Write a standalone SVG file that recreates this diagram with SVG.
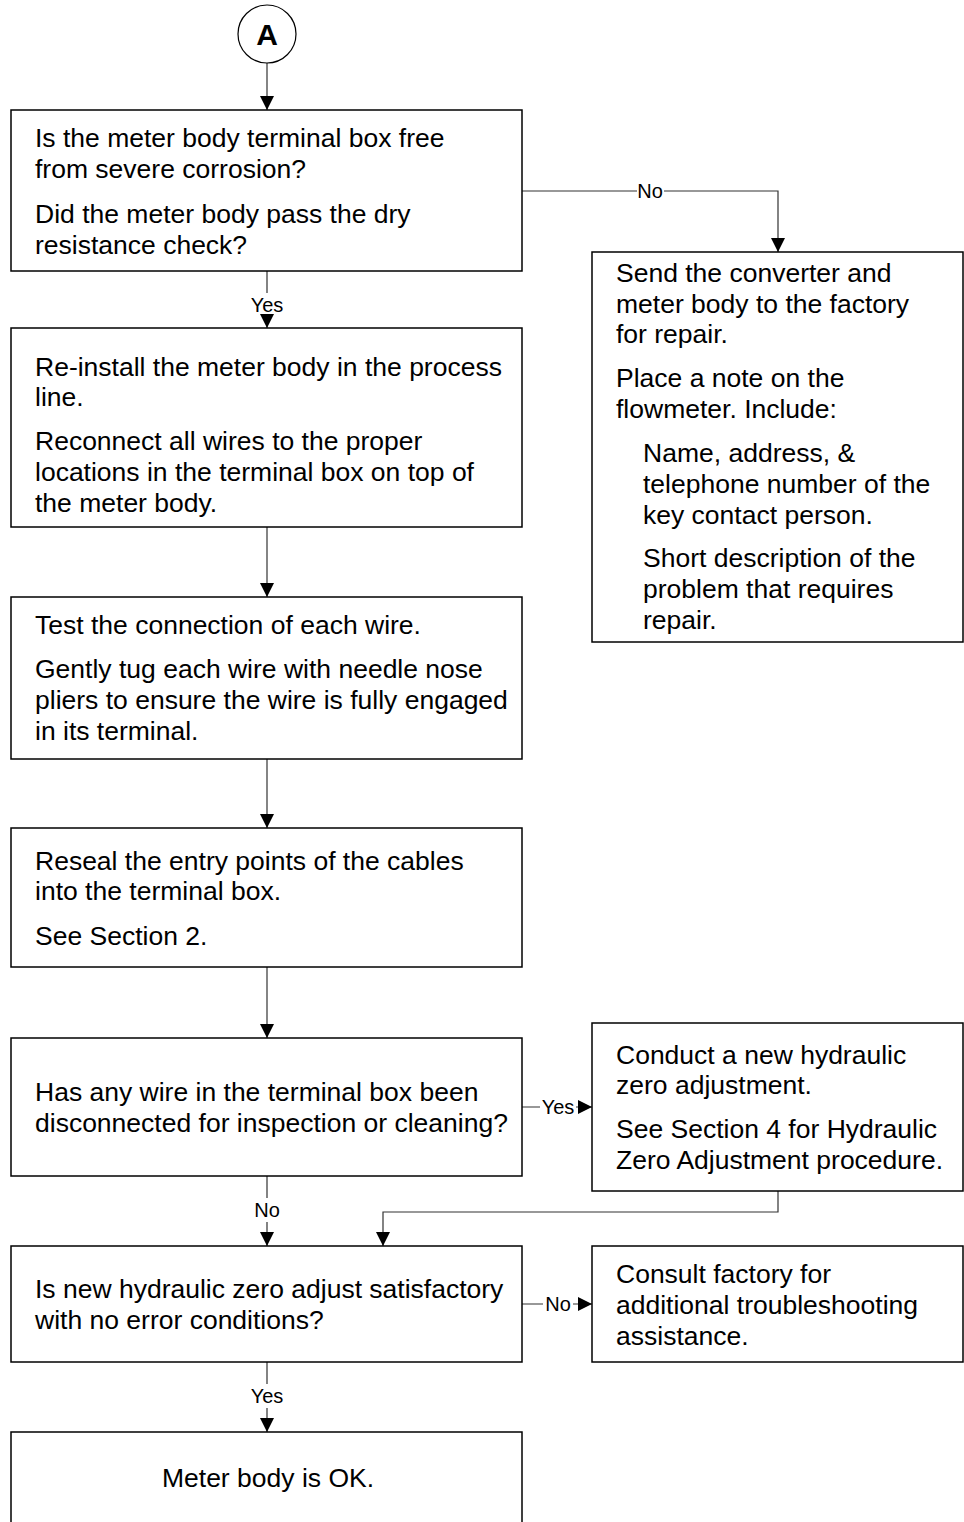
<svg xmlns="http://www.w3.org/2000/svg" width="964" height="1522" viewBox="0 0 964 1522">
<style>
.box{fill:#fff;stroke:#000;stroke-width:1.5}
.t{font-family:"Liberation Sans",Arial,sans-serif;font-size:26.5px;fill:#000}
.lbl{font-family:"Liberation Sans",Arial,sans-serif;font-size:20px;fill:#000}
.c{fill:none;stroke:#333;stroke-width:1.2}
</style>
<defs>
<marker id="ah" viewBox="0 0 10 10" refX="10" refY="5" markerWidth="14" markerHeight="14" markerUnits="userSpaceOnUse" orient="auto">
<path d="M0,0 L10,5 L0,10 Z" fill="#000"/>
</marker>
</defs>
<rect width="964" height="1522" fill="#fff"/>
<g id="connectors">
<path class="c" d="M267,63 V110" marker-end="url(#ah)"/>
<path class="c" d="M522,191 H637 M664,191 H778 V252" marker-end="url(#ah)"/>
<path class="c" d="M267,271 V293 M267,318 V328" marker-end="url(#ah)"/>
<path class="c" d="M267,527 V597" marker-end="url(#ah)"/>
<path class="c" d="M267,759 V828" marker-end="url(#ah)"/>
<path class="c" d="M267,967 V1038" marker-end="url(#ah)"/>
<path class="c" d="M522,1107 H540 M576,1107 H592" marker-end="url(#ah)"/>
<path class="c" d="M267,1176 V1198 M267,1222 V1246" marker-end="url(#ah)"/>
<path class="c" d="M778,1191 V1212 H383 V1246" marker-end="url(#ah)"/>
<path class="c" d="M522,1304 H543 M573,1304 H592" marker-end="url(#ah)"/>
<path class="c" d="M267,1362 V1384 M267,1408 V1432" marker-end="url(#ah)"/>
<text class="lbl" x="650" y="198" text-anchor="middle">No</text>
<text class="lbl" x="267" y="312" text-anchor="middle">Yes</text>
<text class="lbl" x="558" y="1114" text-anchor="middle">Yes</text>
<text class="lbl" x="267" y="1217" text-anchor="middle">No</text>
<text class="lbl" x="558" y="1311" text-anchor="middle">No</text>
<text class="lbl" x="267" y="1403" text-anchor="middle">Yes</text>
</g>
<g id="start">
<circle cx="267" cy="34" r="29" fill="#fff" stroke="#000" stroke-width="1.2"/>
<text x="267" y="45" text-anchor="middle" font-family="Liberation Sans, Arial, sans-serif" font-size="30" font-weight="bold">A</text>
</g>
<g id="n1">
<rect class="box" x="11" y="110" width="511" height="161"/>
<text class="t" x="35" y="147">Is the meter body terminal box free</text>
<text class="t" x="35" y="178">from severe corrosion?</text>
<text class="t" x="35" y="223">Did the meter body pass the dry</text>
<text class="t" x="35" y="254">resistance check?</text>
</g>
<g id="n2">
<rect class="box" x="592" y="252" width="371" height="390"/>
<text class="t" x="616" y="282">Send the converter and</text>
<text class="t" x="616" y="313">meter body to the factory</text>
<text class="t" x="616" y="343">for repair.</text>
<text class="t" x="616" y="387">Place a note on the</text>
<text class="t" x="616" y="418">flowmeter. Include:</text>
<text class="t" x="643" y="462">Name, address, &amp;</text>
<text class="t" x="643" y="493">telephone number of the</text>
<text class="t" x="643" y="524">key contact person.</text>
<text class="t" x="643" y="567">Short description of the</text>
<text class="t" x="643" y="598">problem that requires</text>
<text class="t" x="643" y="629">repair.</text>
</g>
<g id="n3">
<rect class="box" x="11" y="328" width="511" height="199"/>
<text class="t" x="35" y="376">Re-install the meter body in the process</text>
<text class="t" x="35" y="406">line.</text>
<text class="t" x="35" y="450">Reconnect all wires to the proper</text>
<text class="t" x="35" y="481">locations in the terminal box on top of</text>
<text class="t" x="35" y="512">the meter body.</text>
</g>
<g id="n4">
<rect class="box" x="11" y="597" width="511" height="162"/>
<text class="t" x="35" y="634">Test the connection of each wire.</text>
<text class="t" x="35" y="678">Gently tug each wire with needle nose</text>
<text class="t" x="35" y="709">pliers to ensure the wire is fully engaged</text>
<text class="t" x="35" y="740">in its terminal.</text>
</g>
<g id="n5">
<rect class="box" x="11" y="828" width="511" height="139"/>
<text class="t" x="35" y="870">Reseal the entry points of the cables</text>
<text class="t" x="35" y="900">into the terminal box.</text>
<text class="t" x="35" y="945">See Section 2.</text>
</g>
<g id="n6">
<rect class="box" x="11" y="1038" width="511" height="138"/>
<text class="t" x="35" y="1101">Has any wire in the terminal box been</text>
<text class="t" x="35" y="1132">disconnected for inspection or cleaning?</text>
</g>
<g id="n7">
<rect class="box" x="592" y="1023" width="371" height="168"/>
<text class="t" x="616" y="1064">Conduct a new hydraulic</text>
<text class="t" x="616" y="1094">zero adjustment.</text>
<text class="t" x="616" y="1138">See Section 4 for Hydraulic</text>
<text class="t" x="616" y="1169">Zero Adjustment procedure.</text>
</g>
<g id="n8">
<rect class="box" x="11" y="1246" width="511" height="116"/>
<text class="t" x="35" y="1298">Is new hydraulic zero adjust satisfactory</text>
<text class="t" x="35" y="1329">with no error conditions?</text>
</g>
<g id="n9">
<rect class="box" x="592" y="1246" width="371" height="116"/>
<text class="t" x="616" y="1283">Consult factory for</text>
<text class="t" x="616" y="1314">additional troubleshooting</text>
<text class="t" x="616" y="1345">assistance.</text>
</g>
<g id="n10">
<rect class="box" x="11" y="1432" width="511" height="110"/>
<text class="t" x="268" y="1487" text-anchor="middle">Meter body is OK.</text>
</g>
</svg>
